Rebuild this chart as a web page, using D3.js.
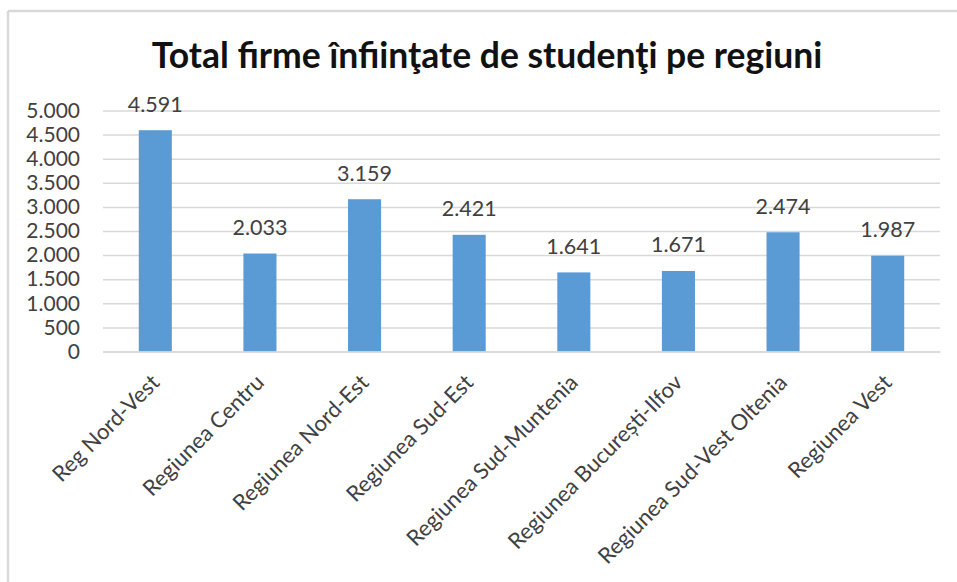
<!DOCTYPE html>
<html>
<head>
<meta charset="utf-8">
<script src="https://cdn.jsdelivr.net/npm/d3@7"></script>
<style>
  html, body { margin: 0; padding: 0; background: #fff; }
  svg { display: block; }
  text { font-family: Lato, "Open Sans", sans-serif; }
</style>
</head>
<body>
<svg id="chart" width="957" height="582"></svg>
<script>
const title = "Total firme înfiinţate de studenţi pe regiuni";
const categories = [
  "Reg Nord-Vest",
  "Regiunea Centru",
  "Regiunea Nord-Est",
  "Regiunea Sud-Est",
  "Regiunea Sud-Muntenia",
  "Regiunea București-Ilfov",
  "Regiunea Sud-Vest Oltenia",
  "Regiunea Vest"
];
const values = [4591, 2033, 3159, 2421, 1641, 1671, 2474, 1987];
const yTicks = [0, 500, 1000, 1500, 2000, 2500, 3000, 3500, 4000, 4500, 5000];

const svg = d3.select("#chart");
const W = 957, H = 582;
const plot = { left: 103, right: 940, top: 110.5, bottom: 351.5 };

// frame lines (screenshot border)
svg.append("line").attr("x1", 8).attr("x2", W).attr("y1", 11).attr("y2", 11)
  .attr("stroke", "#d9d9d9").attr("stroke-width", 2.5);
svg.append("line").attr("x1", 8).attr("x2", 8).attr("y1", 11).attr("y2", H)
  .attr("stroke", "#d9d9d9").attr("stroke-width", 2.5);

const fmt = d3.formatLocale({ decimal: ",", thousands: ".", grouping: [3], currency: ["", ""] }).format(",d");

const x = d3.scaleBand().domain(categories).range([plot.left, plot.right])
  .paddingInner(0.684).paddingOuter(0.342);
const y = d3.scaleLinear().domain([0, 5000]).range([plot.bottom, plot.top]);

// gridlines + y labels via axis
const yAxis = d3.axisLeft(y).tickValues(yTicks).tickFormat(fmt)
  .tickSize(-(plot.right - plot.left)).tickPadding(23);
const gy = svg.append("g").attr("transform", `translate(${plot.left},0)`).call(yAxis);
gy.select(".domain").remove();
gy.selectAll(".tick line").attr("stroke", "#d9d9d9").attr("stroke-width", 1.5);
gy.selectAll(".tick text").attr("fill", "#404040").style("font-size", "21px")
  .style("font-family", "Lato, sans-serif");

// bars
svg.append("g").selectAll("rect").data(values).join("rect")
  .attr("x", (d, i) => x(categories[i]))
  .attr("width", x.bandwidth())
  .attr("y", d => y(d))
  .attr("height", d => y(0) - y(d))
  .attr("fill", "#5b9bd5");

// data labels
svg.append("g").selectAll("text").data(values).join("text")
  .attr("x", (d, i) => x(categories[i]) + x.bandwidth() / 2)
  .attr("y", d => y(d) - 18.5)
  .attr("text-anchor", "middle")
  .attr("fill", "#404040")
  .style("font-size", "21.5px")
  .text(d => fmt(d));

// x labels
const xAxis = d3.axisBottom(x).tickSize(0).tickPadding(0);
const gx = svg.append("g").attr("transform", `translate(0,${plot.bottom})`).call(xAxis);
gx.select(".domain").attr("stroke", "#d9d9d9").attr("stroke-width", 1.5);
gx.selectAll(".tick text")
  .attr("text-anchor", "end")
  .attr("y", 0).attr("dy", "0.35em")
  .attr("transform", "translate(0,27) rotate(-45)")
  .attr("fill", "#404040")
  .style("font-size", "22px")
  .style("font-family", "Lato, sans-serif");

// title
svg.append("text")
  .attr("x", 487).attr("y", 68)
  .attr("text-anchor", "middle")
  .attr("fill", "#111")
  .style("font-size", "35.5px")
  .style("font-weight", "bold")
  .text(title);
</script>
</body>
</html>
